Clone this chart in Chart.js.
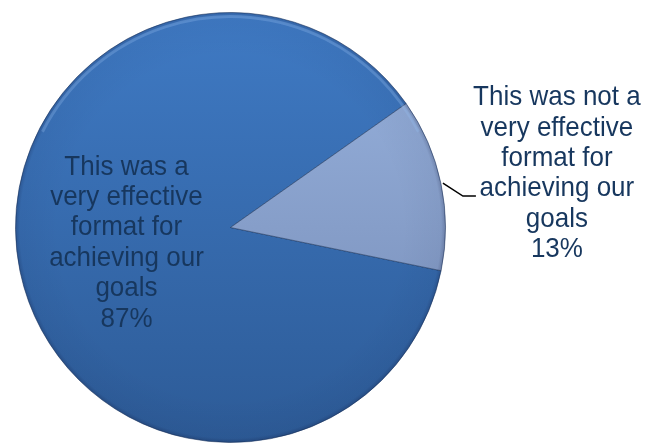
<!DOCTYPE html>
<html>
<head>
<meta charset="utf-8">
<script src="https://cdn.jsdelivr.net/npm/chart.js@4.4.0/dist/chart.umd.min.js"></script>
<style>
  html,body{margin:0;padding:0;background:#fff}
  #wrap{width:648px;height:445px}
</style>
</head>
<body>
<div id="wrap"><canvas id="c" width="648" height="445"></canvas></div>
<script>
// data
const categories = [
  'This was a very effective format for achieving our goals',
  'This was not a very effective format for achieving our goals'
]
const values = [87, 13]
const pctLabels = ['87%', '13%']

// slice fills: top colour, bottom colour
const fills = [['#3f7ac4', '#2d5b97'], ['#98b3df', '#7489b3']]
const TEXT = '#17375e'
const FONT = '26px "Liberation Sans", Arial, sans-serif'
const LH = 30.4, CAP = 20, SY = 1.07

function vGrad(chart, top, bottom){
  const a = chart.chartArea
  const g = chart.ctx.createLinearGradient(0, a.top, 0, a.bottom)
  g.addColorStop(0, top); g.addColorStop(1, bottom)
  return g
}

function wrap(ctx, text, maxW){
  const words = text.split(' '), out = []
  let cur = ''
  words.forEach(w=>{
    const t = cur ? cur + ' ' + w : w
    if(ctx.measureText(t).width > maxW && cur){ out.push(cur); cur = w }
    else cur = t
  })
  if(cur) out.push(cur)
  return out
}

function drawLine(ctx, s, x, y){
  ctx.save(); ctx.translate(x, y); ctx.scale(1, SY)
  ctx.fillText(s, 0, 0)
  ctx.restore()
}

// soft bevel look on the pie
const bevel = {
  id: 'bevel',
  afterDatasetsDraw(chart){
    const a = chart.getDatasetMeta(0).data[0]
    if(!a) return
    const ctx = chart.ctx, R = a.outerRadius
    ctx.save()
    const g = ctx.createRadialGradient(a.x, a.y, R*0.8, a.x, a.y, R)
    g.addColorStop(0, 'rgba(0,0,30,0)')
    g.addColorStop(0.9, 'rgba(0,0,30,0.04)')
    g.addColorStop(1, 'rgba(0,0,30,0.2)')
    ctx.fillStyle = g
    ctx.beginPath(); ctx.arc(a.x, a.y, R, 0, Math.PI*2); ctx.fill()
    ctx.strokeStyle = 'rgba(150,190,240,0.3)'; ctx.lineWidth = 3
    ctx.beginPath(); ctx.arc(a.x, a.y, R-4, Math.PI*1.15, Math.PI*1.85); ctx.stroke()
    ctx.restore()
  }
}

const pieLabels = {
  id: 'pieLabels',
  afterDraw(chart){
    const ctx = chart.ctx
    const arcs = chart.getDatasetMeta(0).data
    ctx.save()
    ctx.font = FONT
    ctx.fillStyle = TEXT
    ctx.textAlign = 'center'
    ctx.textBaseline = 'alphabetic'
    arcs.forEach((a, i)=>{
      const lines = wrap(ctx, categories[i], 170).concat(pctLabels[i])
      const mid = (a.startAngle + a.endAngle) / 2
      const R = a.outerRadius
      let cx, firstBase
      if(i === 0){
        cx = a.x + Math.cos(mid)*R*0.48 - 3
        const cy = a.y + Math.sin(mid)*R*0.48 - 8
        firstBase = cy - ((lines.length-1)*LH + CAP)/2 + CAP
      } else {
        const p0 = {x: a.x + Math.cos(mid)*(R+2), y: a.y + Math.sin(mid)*(R+2)}
        const p1 = {x: p0.x + 20, y: p0.y + 13}
        const p2 = {x: p1.x + 13, y: p1.y}
        ctx.save()
        ctx.strokeStyle = '#000'; ctx.lineWidth = 1.5
        ctx.beginPath(); ctx.moveTo(p0.x, p0.y); ctx.lineTo(p1.x, p1.y); ctx.lineTo(p2.x, p2.y); ctx.stroke()
        ctx.restore()
        cx = p2.x + 81
        firstBase = p2.y - 91
      }
      lines.forEach((l, k)=> drawLine(ctx, l, cx, firstBase + k*LH))
    })
    ctx.restore()
  }
}

new Chart(document.getElementById('c'), {
  type: 'pie',
  data: {
    labels: categories,
    datasets: [{
      data: values,
      backgroundColor: c => c.chart.chartArea ? vGrad(c.chart, ...fills[c.dataIndex]) : fills[c.dataIndex][0],
      borderColor: 'rgba(30,55,95,0.55)',
      borderWidth: 1
    }]
  },
  options: {
    responsive: false,
    animation: false,
    rotation: 101.6,
    layout: {padding: {top: 12, bottom: 2, left: 15, right: 202}},
    plugins: {legend: {display: false}, tooltip: {enabled: false}}
  },
  plugins: [bevel, pieLabels]
})
</script>
</body>
</html>
